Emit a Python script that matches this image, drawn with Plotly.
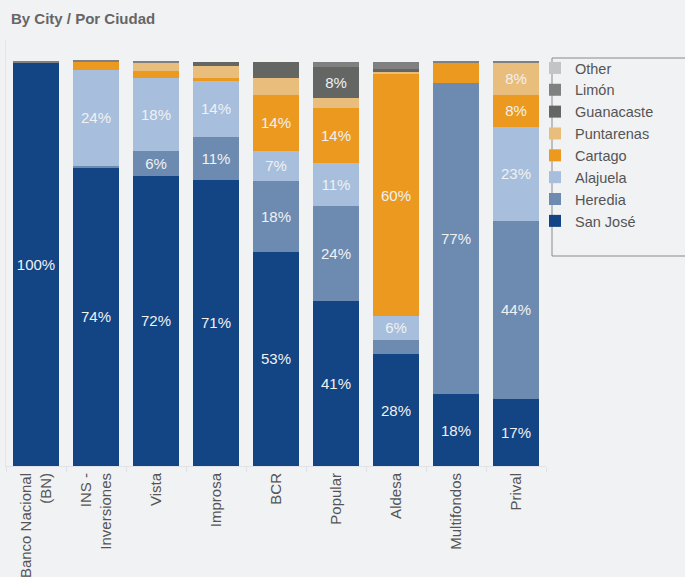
import plotly.graph_objects as go

categories = ["Banco Nacional<br>(BN)", "INS -<br>Inversiones", "Vista", "Improsa", "BCR",
              "Popular", "Aldesa", "Multifondos", "Prival"]

san_jose   = [99.8, 73.9, 71.8, 70.8, 53.0, 40.8, 27.7, 17.8, 16.6]
heredia    = [0.0, 0.4, 6.2, 10.6, 17.6, 23.6, 3.5, 77.0, 44.0]
alajuela   = [0.0, 23.7, 18.0, 13.9, 7.3, 10.6, 5.9, 0.0, 23.3]
cartago    = [0.0, 2.0, 1.7, 0.7, 14.0, 13.6, 59.9, 5.0, 7.9]
puntarenas = [0.0, 0.0, 2.2, 3.0, 4.0, 2.5, 0.4, 0.0, 8.0]
guanacaste = [0.0, 0.0, 0.0, 1.0, 4.1, 7.6, 0.8, 0.0, 0.0]
limon      = [0.2, 0.3, 0.1, 0.0, 0.0, 1.3, 1.7, 0.2, 0.2]
other      = [0.0] * 9

series = [
    ("San José", san_jose, "#134483"),
    ("Heredia", heredia, "#6d8ab0"),
    ("Alajuela", alajuela, "#a7bfdc"),
    ("Cartago", cartago, "#ec9a1f"),
    ("Puntarenas", puntarenas, "#e9bd7b"),
    ("Guanacaste", guanacaste, "#646664"),
    ("Limón", limon, "#7f807f"),
    ("Other", other, "#c4c4c4"),
]

FONT = "Liberation Sans, Arial, sans-serif"

fig = go.Figure()
for name, vals, color in series:
    labels = [f"{v:.0f}%" if v >= 5.5 else "" for v in vals]
    fig.add_trace(go.Bar(
        x=categories, y=vals, name=name,
        marker=dict(color=color, line=dict(width=0)),
        text=labels, textposition="inside", insidetextanchor="middle",
        textangle=0,
        textfont=dict(color="#f0f1f3", size=15, family=FONT),
        hoverinfo="skip",
    ))

L, R, T, B = 6, 139, 40, 111
W, H = 685, 577
pw, ph = W - L - R, H - T - B

def px_x(X):
    return (X - L) / pw

def px_y(Y):
    return (H - B - Y) / ph

fig.update_layout(
    width=W, height=H,
    barmode="stack", bargap=0.233,
    paper_bgcolor="#f1f2f4", plot_bgcolor="#f1f2f4",
    margin=dict(l=L, r=R, t=T, b=B, autoexpand=False),
    font=dict(family=FONT, color="#555555"),
    title=dict(text="<b>By City / Por Ciudad</b>", x=11 / W, xanchor="left",
               y=1 - 19 / H, yanchor="middle",
               font=dict(size=15, color="#666666")),
    showlegend=True,
    legend=dict(traceorder="reversed", x=px_x(535), xanchor="left",
                y=px_y(52), yanchor="top", bgcolor="rgba(0,0,0,0)",
                borderwidth=0, font=dict(size=14.5, color="#555555")),
    xaxis=dict(tickangle=-90, tickfont=dict(size=15, color="#555555"),
               automargin=False,
               showline=True, linecolor="#dfe2e6", linewidth=1,
               ticks="outside", tickson="boundaries", ticklen=5, tickcolor="#dfe2e6",
               showgrid=False),
    yaxis=dict(range=[0, 105.4], showticklabels=False, showgrid=False, zeroline=False,
               automargin=False,
               showline=True, linecolor="#e3e5e8", ticks=""),
    shapes=[dict(type="rect", xref="paper", yref="paper",
                 x0=px_x(552), x1=px_x(700), y0=px_y(256), y1=px_y(58),
                 line=dict(color="#8a8a8a", width=1), fillcolor="rgba(0,0,0,0)")],
)

fig.write_html("out.html")
